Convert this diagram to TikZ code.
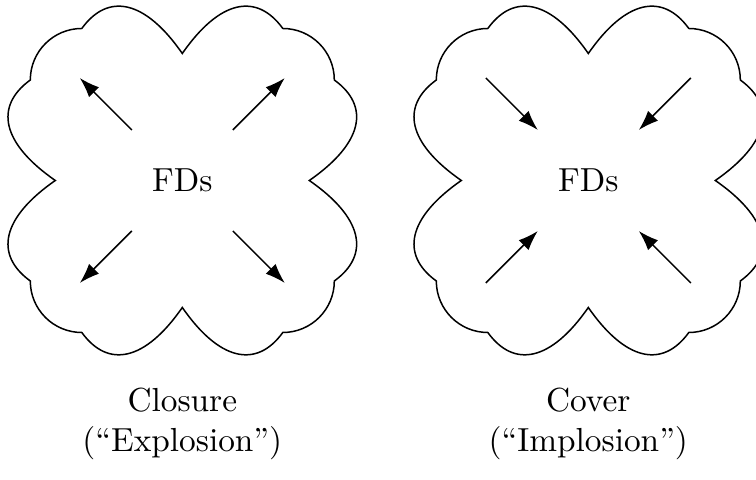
\documentclass[tikz,border=0pt]{standalone}
\usetikzlibrary{arrows.meta}
\tikzset{
  cloudline/.style={line width=0.45pt},
  arr/.style={-{Latex[length=6pt,width=4.2pt]}, line width=0.45pt},
  lbl/.style={align=center, inner sep=0pt}
}
\newcommand\cloudshape{(0,127)
 .. controls (-37,180.3) and (-74,188.5) .. (-100.5,152)
 arc[start angle=90, end angle=180, radius=51.5]
 .. controls (-188.5,74) and (-180.3,37) .. (-127,0)
 .. controls (-180.3,-37) and (-188.5,-74) .. (-152,-100.5)
 arc[start angle=180, end angle=270, radius=51.5]
 .. controls (-74,-188.5) and (-37,-180.3) .. (0,-127)
 .. controls (37,-180.3) and (74,-188.5) .. (100.5,-152)
 arc[start angle=270, end angle=360, radius=51.5]
 .. controls (188.5,-74) and (180.3,-37) .. (127,0)
 .. controls (180.3,37) and (188.5,74) .. (152,100.5)
 arc[start angle=0, end angle=90, radius=51.5]
 .. controls (74,188.5) and (37,180.3) .. (0,127) -- cycle}
\begin{document}
\begin{tikzpicture}[x=0.3pt,y=0.3pt]
\useasboundingbox (0,0) rectangle (756,480);
% left cloud
\begin{scope}[shift={(182.3,299.5)}]
  \draw[cloudline] \cloudshape;
  \node (fdL) at (0,0) {FDs};
  \foreach \sx/\sy/\n in {-1/1/a, 1/1/b, -1/-1/c, 1/-1/d} {
    \coordinate (Lin\n) at (\sx*50.5,\sy*50.5);
    \coordinate (Lout\n) at (\sx*102.5,\sy*102.5);
    \draw[arr] (Lin\n) -- (Lout\n);
  }
  \node[lbl] (lblL) at (0,-243) {Closure\\(``Explosion'')};
\end{scope}
% right cloud
\begin{scope}[shift={(588.3,299.5)}]
  \draw[cloudline] \cloudshape;
  \node (fdR) at (0,0) {FDs};
  \foreach \sx/\sy/\n in {-1/1/a, 1/1/b, -1/-1/c, 1/-1/d} {
    \coordinate (Rin\n) at (\sx*50.5,\sy*50.5);
    \coordinate (Rout\n) at (\sx*102.5,\sy*102.5);
    \draw[arr] (Rout\n) -- (Rin\n);
  }
  \node[lbl] (lblR) at (0,-243) {Cover\\(``Implosion'')};
\end{scope}
\end{tikzpicture}
\end{document}
